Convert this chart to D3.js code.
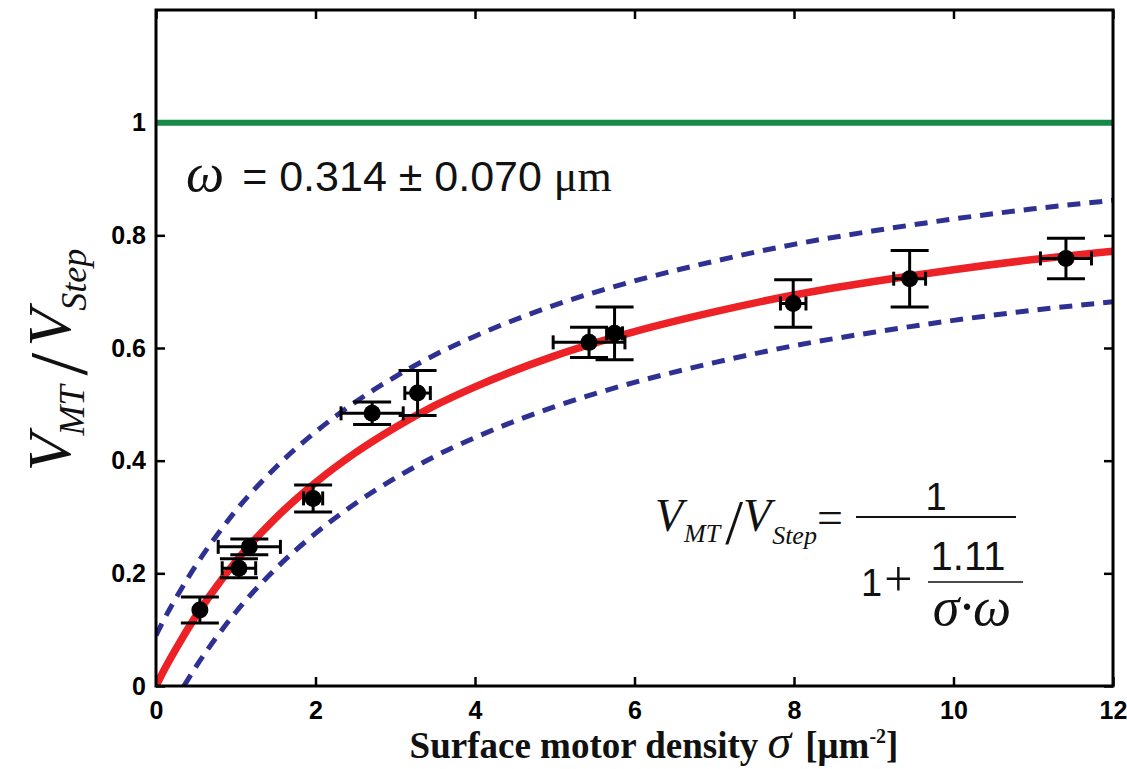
<!DOCTYPE html>
<html>
<head>
<meta charset="utf-8">
<script src="https://cdn.jsdelivr.net/npm/d3@7"></script>
<style>
  body { margin: 0; background: #fff; }
  svg { display: block; }
</style>
</head>
<body>
<svg id="chart"></svg>
<script>
// measured points (sigma in um^-2, ratio V_MT/V_Step) with error bars
var sigma     = [0.55, 1.04, 1.17, 1.97, 2.71, 3.28, 5.43, 5.75, 7.99, 9.45, 11.41];
var ratio     = [0.135, 0.209, 0.247, 0.333, 0.484, 0.520, 0.610, 0.626, 0.679, 0.723, 0.759];
var sigmaErr  = [0, 0.21, 0.39, 0.12, 0.39, 0.16, 0.45, 0.10, 0.16, 0.20, 0.32];
var ratioErr  = [0.023, 0.017, 0.014, 0.024, 0.020, 0.040, 0.027, 0.047, 0.042, 0.050, 0.036];

// fitted curve and its band
var fitSigma  = [0, 0.1, 0.25, 0.5, 0.75, 1, 1.5, 2, 2.5, 3, 3.5, 4, 5, 6, 7, 8, 9, 10, 11, 12];
var fitRatio  = [0, 0.028, 0.066, 0.124, 0.175, 0.221, 0.298, 0.361, 0.414, 0.459, 0.498, 0.531, 0.586, 0.629, 0.664, 0.694, 0.718, 0.739, 0.757, 0.772];
var upperRatio = [0.090, 0.118, 0.156, 0.214, 0.265, 0.311, 0.388, 0.451, 0.504, 0.549, 0.588, 0.621, 0.676, 0.719, 0.754, 0.784, 0.808, 0.829, 0.847, 0.862];
var lowerSigma = [0.35, 0.5, 0.75, 1, 1.5, 2, 2.5, 3, 3.5, 4, 5, 6, 7, 8, 9, 10, 11, 12];
var lowerRatio = [0, 0.034, 0.085, 0.131, 0.208, 0.271, 0.324, 0.369, 0.408, 0.441, 0.496, 0.539, 0.574, 0.604, 0.628, 0.649, 0.667, 0.682];
var refLevel = 1;

var xTicks = [0, 2, 4, 6, 8, 10, 12];
var yTicks = [0, 0.2, 0.4, 0.6, 0.8, 1];

var svgWidth = 1127, svgHeight = 769;
var margin = { top: 10, right: 14, bottom: 83, left: 156 };
var width = svgWidth - margin.left - margin.right;
var height = svgHeight - margin.top - margin.bottom;

var svg = d3.select("#chart")
  .attr("width", svgWidth)
  .attr("height", svgHeight);

svg.append("rect").attr("width", svgWidth).attr("height", svgHeight).attr("fill", "#fff");

var g = svg.append("g")
  .attr("transform", "translate(" + margin.left + "," + margin.top + ")");

var x = d3.scaleLinear().domain([0, 12]).range([0, width]);
var y = d3.scaleLinear().domain([0, 1.2]).range([height, 0]);

var sans = "'Liberation Sans', Arial, Helvetica, sans-serif";
var serif = "'Liberation Serif', 'Times New Roman', serif";

// axes, ticks pointing inward like matlab
function styleAxis(sel, showLabels) {
  sel.select(".domain").remove();
  sel.selectAll(".tick line").attr("stroke", "#000").attr("stroke-width", 2.5);
  sel.selectAll(".tick text")
    .attr("fill", "#000")
    .style("font-family", sans)
    .style("font-weight", "bold")
    .style("font-size", "25px");
  if (!showLabels) sel.selectAll(".tick text").remove();
}

g.append("g")
  .attr("transform", "translate(0," + height + ")")
  .call(d3.axisBottom(x).tickValues(xTicks).tickSize(-9).tickPadding(15).tickFormat(d3.format("d")))
  .call(styleAxis, true);

g.append("g")
  .call(d3.axisTop(x).tickValues(xTicks).tickSize(-9))
  .call(styleAxis, false);

g.append("g")
  .call(d3.axisLeft(y).tickValues(yTicks).tickSize(-9).tickPadding(10).tickFormat(function(d) { return d === 0 || d === 1 ? d3.format("d")(d) : d3.format(".1f")(d); }))
  .call(styleAxis, true);

g.append("g")
  .attr("transform", "translate(" + width + ",0)")
  .call(d3.axisRight(y).tickValues(yTicks).tickSize(-9))
  .call(styleAxis, false);

// reference line at 1
g.append("line")
  .attr("x1", x(0)).attr("x2", x(12))
  .attr("y1", y(refLevel)).attr("y2", y(refLevel))
  .attr("stroke", "#178a48")
  .attr("stroke-width", 6);

g.append("clipPath").attr("id", "plotclip")
  .append("rect").attr("width", width).attr("height", height);

var plot = g.append("g").attr("clip-path", "url(#plotclip)");

var line = d3.line()
  .x(function(d) { return x(d[0]); })
  .y(function(d) { return y(d[1]); })
  .curve(d3.curveMonotoneX);

plot.append("path")
  .datum(d3.zip(fitSigma, upperRatio))
  .attr("fill", "none")
  .attr("stroke", "#2e3192")
  .attr("stroke-width", 5)
  .attr("stroke-dasharray", "13,9")
  .attr("d", line);

plot.append("path")
  .datum(d3.zip(lowerSigma, lowerRatio))
  .attr("fill", "none")
  .attr("stroke", "#2e3192")
  .attr("stroke-width", 5)
  .attr("stroke-dasharray", "13,9")
  .attr("d", line);

plot.append("path")
  .datum(d3.zip(fitSigma, fitRatio))
  .attr("fill", "none")
  .attr("stroke", "#ec2227")
  .attr("stroke-width", 7.5)
  .attr("d", line);

// error bars + points
var pts = sigma.map(function(s, i) {
  return { s: s, r: ratio[i], se: sigmaErr[i], re: ratioErr[i] };
});

var capY = 19, capX = 7;
var eb = g.append("g").attr("stroke", "#000").attr("stroke-width", 3);

pts.forEach(function(d) {
  // vertical bar
  eb.append("line").attr("x1", x(d.s)).attr("x2", x(d.s)).attr("y1", y(d.r - d.re)).attr("y2", y(d.r + d.re));
  eb.append("line").attr("x1", x(d.s) - capY).attr("x2", x(d.s) + capY).attr("y1", y(d.r + d.re)).attr("y2", y(d.r + d.re));
  eb.append("line").attr("x1", x(d.s) - capY).attr("x2", x(d.s) + capY).attr("y1", y(d.r - d.re)).attr("y2", y(d.r - d.re));
  if (d.se > 0) {
    eb.append("line").attr("x1", x(d.s - d.se)).attr("x2", x(d.s + d.se)).attr("y1", y(d.r)).attr("y2", y(d.r));
    eb.append("line").attr("x1", x(d.s - d.se)).attr("x2", x(d.s - d.se)).attr("y1", y(d.r) - capX).attr("y2", y(d.r) + capX);
    eb.append("line").attr("x1", x(d.s + d.se)).attr("x2", x(d.s + d.se)).attr("y1", y(d.r) - capX).attr("y2", y(d.r) + capX);
  }
});

g.selectAll("circle.pt")
  .data(pts)
  .enter().append("circle")
  .attr("class", "pt")
  .attr("cx", function(d) { return x(d.s); })
  .attr("cy", function(d) { return y(d.r); })
  .attr("r", 8.5)
  .attr("fill", "#000");

// frame
g.append("rect")
  .attr("width", width).attr("height", height)
  .attr("fill", "none")
  .attr("stroke", "#000")
  .attr("stroke-width", 3);

// omega annotation
var om = svg.append("text").attr("x", 186).attr("y", 191).attr("fill", "#111");
om.append("tspan").style("font-family", serif).style("font-style", "italic").style("font-size", "54px").text("ω");
om.append("tspan").attr("dx", 18).style("font-family", sans).style("font-size", "43px").text("= 0.314 ± 0.070 ");
om.append("tspan").style("font-family", serif).style("font-size", "44px").text("μm");

// formula
var fx = svg.append("g").attr("fill", "#111");
var lhs = fx.append("text").attr("x", 655).attr("y", 531).style("font-family", serif).style("font-style", "italic");
lhs.append("tspan").style("font-size", "46px").text("V");
lhs.append("tspan").attr("dy", 11).attr("dx", 1).style("font-size", "26px").text("MT");
lhs.append("tspan").attr("dy", 2).attr("dx", 5).style("font-size", "64px").style("font-style", "normal").text("/");
lhs.append("tspan").attr("dy", -13).style("font-size", "46px").text("V");
lhs.append("tspan").attr("dy", 13).attr("dx", 1).style("font-size", "26px").text("Step");
lhs.append("tspan").attr("dy", -11).style("font-size", "46px").style("font-style", "normal").text("=");

fx.append("line").attr("x1", 856).attr("x2", 1016).attr("y1", 517).attr("y2", 517).attr("stroke", "#111").attr("stroke-width", 2);
fx.append("text").attr("x", 936).attr("y", 510).attr("text-anchor", "middle").style("font-family", sans).style("font-size", "38px").text("1");
var onePlus = fx.append("text").attr("x", 861).attr("y", 596).style("font-family", sans).style("font-size", "38px");
onePlus.append("tspan").text("1");
onePlus.append("tspan").attr("dx", 2).style("font-family", serif).style("font-size", "50px").text("+");
fx.append("line").attr("x1", 928).attr("x2", 1023).attr("y1", 582).attr("y2", 582).attr("stroke", "#111").attr("stroke-width", 1.5);
fx.append("text").attr("x", 968).attr("y", 570).attr("text-anchor", "middle").style("font-family", sans).style("font-size", "40px").text("1.11");
fx.append("text").attr("x", 972).attr("y", 625).attr("text-anchor", "middle").style("font-family", serif).style("font-style", "italic").style("font-size", "54px").text("σ·ω");

// x axis title
var xt = svg.append("text")
  .attr("x", 654).attr("y", 758)
  .attr("text-anchor", "middle")
  .style("font-family", serif)
  .style("font-weight", "bold")
  .style("font-size", "37px")
  .attr("fill", "#111");
xt.append("tspan").text("Surface motor density ");
xt.append("tspan").style("font-style", "italic").style("font-weight", "normal").style("font-size", "48px").text("σ");
xt.append("tspan").attr("dx", 14).text("[μm");
xt.append("tspan").attr("dy", -15).style("font-size", "20px").text("-2");
xt.append("tspan").attr("dy", 15).text("]");

// y axis title
var yt = svg.append("text")
  .attr("transform", "translate(70,360) rotate(-90)")
  .attr("text-anchor", "middle")
  .style("font-family", serif)
  .style("font-style", "italic")
  .attr("fill", "#111");
yt.append("tspan").style("font-size", "62px").text("V");
yt.append("tspan").attr("dy", 14).attr("dx", -2).style("font-size", "36px").text("MT");
yt.append("tspan").attr("dy", 2).attr("dx", 10).style("font-size", "82px").style("font-style", "normal").text("/");
yt.append("tspan").attr("dy", -16).attr("dx", 6).style("font-size", "62px").text("V");
yt.append("tspan").attr("dy", 16).attr("dx", -2).style("font-size", "36px").text("Step");
</script>
</body>
</html>
